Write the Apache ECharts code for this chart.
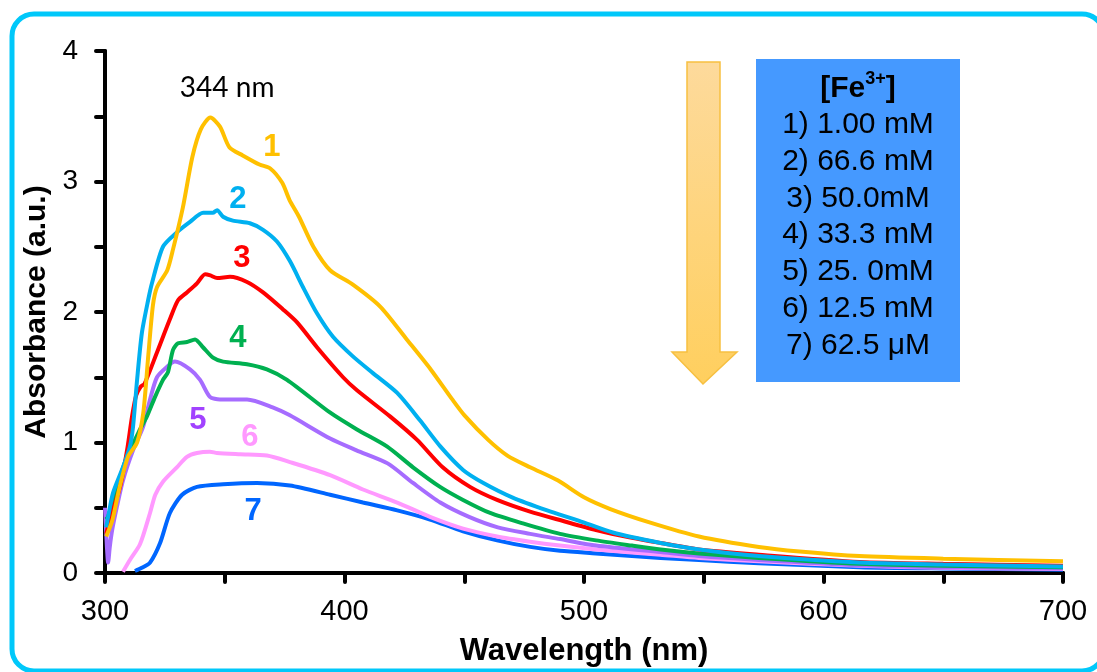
<!DOCTYPE html>
<html>
<head>
<meta charset="utf-8">
<script src="https://cdn.jsdelivr.net/npm/echarts@6/dist/echarts.min.js"></script>
<style>
    html, body { margin: 0; padding: 0; background: #fff; }
    #chart { width: 1097px; height: 672px; }
</style>
</head>
<body>
<div id="chart"></div>
<script>
    // absorbance spectra, [wavelength nm, absorbance]
    var curve1 = [[300.5,0.28],[303,0.4],[306,0.65],[309.6,0.89],[313.4,1.0],[316,1.23],[318,1.65],[320,2.05],[321.7,2.19],[326,2.32],[328.4,2.48],[332.5,2.8],[336.5,3.19],[340,3.4],[344,3.49],[348,3.42],[352,3.26],[357.5,3.2],[364.5,3.13],[369,3.1],[374,2.99],[377,2.86],[381,2.73],[387,2.5],[394,2.32],[403.5,2.21],[415,2.04],[426,1.79],[436,1.56],[445,1.33],[450,1.21],[460,1.02],[468,0.9],[477.5,0.81],[489,0.71],[500,0.58],[511,0.49],[527,0.39],[548,0.28],[573,0.2],[590,0.165],[615,0.13],[650,0.11],[700,0.09]];
    var curve2 = [[300.5,0.35],[301.3,0.43],[303.3,0.61],[307.5,0.81],[310.4,0.97],[311.7,1.12],[313.4,1.48],[315.4,1.84],[318,2.09],[319.6,2.22],[324.2,2.5],[330,2.61],[335.5,2.69],[341,2.76],[345,2.76],[346.8,2.78],[349.3,2.73],[353.4,2.7],[360.5,2.68],[366,2.63],[371.8,2.54],[377.2,2.39],[382.7,2.19],[388.5,1.99],[395.2,1.81],[403.5,1.66],[412,1.53],[422,1.38],[431.5,1.17],[440,0.97],[449.5,0.79],[458,0.69],[470,0.58],[484.6,0.48],[498,0.4],[512,0.31],[532,0.23],[548,0.18],[573,0.13],[615,0.08],[650,0.065],[700,0.05]];
    var curve3 = [[300.5,0.3],[302,0.41],[306.3,0.66],[309.2,0.94],[311.3,1.2],[313,1.36],[315,1.43],[316.5,1.45],[321.7,1.69],[327,1.94],[330.5,2.09],[334.2,2.15],[338.4,2.22],[341.8,2.29],[344,2.28],[346.8,2.26],[352.2,2.27],[359.3,2.23],[366,2.15],[374.3,2.02],[380.2,1.92],[388.5,1.73],[399.4,1.5],[405.2,1.4],[419,1.2],[430.3,1.02],[441,0.81],[452.4,0.66],[463.7,0.56],[477.5,0.47],[491,0.4],[505,0.33],[520,0.27],[532,0.23],[548,0.18],[573,0.14],[615,0.085],[650,0.07],[700,0.055]];
    var curve4 = [[300.4,0.41],[301.3,0.43],[305,0.66],[309.2,0.89],[314.6,1.1],[317.5,1.2],[320.9,1.35],[324.2,1.48],[326.3,1.54],[328.4,1.71],[330.5,1.76],[334.2,1.77],[337.6,1.79],[340.9,1.73],[345.1,1.65],[349.3,1.62],[359.3,1.6],[367.6,1.56],[376,1.48],[393.9,1.23],[405.2,1.1],[417.7,0.97],[428.6,0.81],[439.9,0.66],[449.5,0.56],[460.8,0.46],[474.5,0.38],[490,0.3],[505,0.25],[520,0.21],[532,0.18],[548,0.15],[573,0.115],[615,0.07],[650,0.055],[700,0.045]];
    var curve5 = [[300,0.5],[300.8,0.2],[301.3,0.08],[302,0.2],[303,0.33],[305,0.51],[307.5,0.71],[311.7,0.94],[315.9,1.12],[318.8,1.33],[321.7,1.5],[325.9,1.58],[329.2,1.62],[335.5,1.56],[339.7,1.48],[343.8,1.35],[348,1.33],[359.3,1.33],[370,1.27],[377,1.21],[394,1.03],[405,0.94],[418,0.84],[428.6,0.69],[440,0.54],[452,0.43],[464,0.35],[477.5,0.3],[490,0.26],[505,0.21],[532,0.16],[548,0.13],[573,0.1],[615,0.06],[650,0.045],[700,0.035]];
    var curve6 = [[307.5,0.01],[310.4,0.1],[314.6,0.22],[318.8,0.46],[321,0.6],[324.2,0.7],[330,0.81],[334.2,0.89],[338.4,0.92],[343.8,0.93],[346.8,0.92],[356.4,0.91],[367.6,0.9],[377.2,0.85],[394,0.75],[407.7,0.64],[422,0.54],[435.7,0.43],[449.5,0.34],[463.7,0.28],[477.5,0.24],[490,0.21],[505,0.18],[532,0.14],[548,0.115],[573,0.09],[615,0.055],[650,0.04],[700,0.03]];
    var curve7 = [[312.5,0.015],[315.4,0.04],[318.8,0.08],[323,0.23],[327.1,0.46],[332.2,0.6],[338.4,0.66],[349.3,0.68],[363.5,0.69],[377.2,0.67],[394,0.6],[407.7,0.54],[422,0.48],[435.7,0.41],[449.5,0.32],[463.7,0.25],[477.5,0.2],[490,0.17],[505,0.15],[532,0.115],[548,0.1],[573,0.075],[615,0.045],[650,0.035],[700,0.025]];

    var curveColors = ['#FFC000', '#00B0F0', '#FF0000', '#00B050', '#A66CFF', '#FF99FF', '#0066FF'];
    var labelColors = ['#FFC000', '#00B0F0', '#FF0000', '#00B050', '#A142FF', '#FF99FF', '#0066FF'];
    var curveNames = ['1', '2', '3', '4', '5', '6', '7'];
    // where the curve numbers sit, [wavelength, absorbance]
    var curveLabelAt = [[369.7,3.26],[355.5,2.86],[357.2,2.41],[355.5,1.80],[338.8,1.17],[360.5,1.04],[361.8,0.475]];
    var peakNote = { text: '344 nm', at: [351, 3.72] };

    var legendTitle = 'Fe';
    var legendLines = ['1) 1.00 mM', '2) 66.6 mM', '3) 50.0mM', '4) 33.3 mM', '5) 25. 0mM', '6) 12.5 mM', '7) 62.5 μM'];

    var curves = [curve1, curve2, curve3, curve4, curve5, curve6, curve7];

    var series = [];
    for (var i = 0; i < curves.length; i++) {
        series.push({
            name: curveNames[i],
            type: 'line',
            data: curves[i],
            showSymbol: false,
            smooth: 0.25,
            lineStyle: { color: curveColors[i], width: 4 },
            z: 10 - i
        });
    }
    var labelData = [];
    for (var j = 0; j < curveLabelAt.length; j++) {
        labelData.push({
            value: curveLabelAt[j],
            label: { formatter: curveNames[j], color: labelColors[j] }
        });
    }
    series.push({
        type: 'scatter',
        data: labelData,
        symbolSize: 0,
        itemStyle: { opacity: 1 },
        label: {
            show: true,
            position: 'inside',
            fontFamily: 'Liberation Sans',
            fontWeight: 'bold',
            fontSize: 31
        },
        z: 20
    });
    series.push({
        type: 'scatter',
        data: [{ value: peakNote.at, label: { formatter: peakNote.text } }],
        symbolSize: 0,
        itemStyle: { opacity: 1 },
        label: {
            show: true,
            position: 'inside',
            fontFamily: 'Lato',
            fontSize: 28,
            color: '#000'
        },
        z: 20
    });

    var chart = echarts.init(document.getElementById('chart'));
    var option = {
        animation: false,
        backgroundColor: '#fff',
        grid: { left: 105, right: 34, top: 51, bottom: 99, outerBoundsMode: 'none', containLabel: false },
        xAxis: {
            type: 'value',
            min: 300, max: 700, interval: 50,
            name: 'Wavelength (nm)',
            nameLocation: 'middle',
            nameGap: 63,
            nameTextStyle: { fontFamily: 'Liberation Sans', fontWeight: 'bold', fontSize: 31, color: '#000' },
            axisLine: { lineStyle: { color: '#000', width: 4 } },
            axisTick: { inside: false, length: 9, lineStyle: { color: '#000', width: 4, cap: 'round' } },
            axisLabel: {
                margin: 24,
                fontFamily: 'Liberation Sans', fontSize: 29, color: '#000',
                formatter: function (v) { return v % 100 === 0 ? String(v) : ''; }
            },
            splitLine: { show: false }
        },
        yAxis: {
            type: 'value',
            min: 0, max: 4, interval: 0.5,
            name: 'Absorbance (a.u.)',
            nameLocation: 'middle',
            nameGap: 52,
            nameTextStyle: { fontFamily: 'Liberation Sans', fontWeight: 'bold', fontSize: 30, color: '#000' },
            axisLine: { show: true, lineStyle: { color: '#000', width: 4 } },
            axisTick: { show: true, inside: false, length: 9, lineStyle: { color: '#000', width: 4, cap: 'round' } },
            axisLabel: {
                margin: 27,
                fontFamily: 'Liberation Sans', fontSize: 28, color: '#000',
                formatter: function (v) { return v % 1 === 0 ? String(v) : ''; }
            },
            splitLine: { show: false }
        },
        series: series,
        graphic: [
            {
                type: 'rect',
                shape: { x: 12, y: 14, width: 1092, height: 657, r: 22 },
                style: { fill: 'none', stroke: '#00C8FA', lineWidth: 5 },
                z: 1
            },
            {
                type: 'polygon',
                shape: { points: [[687, 62], [720, 62], [720, 352], [737, 352], [703, 384], [672, 352], [687, 352]] },
                style: {
                    fill: new echarts.graphic.LinearGradient(0, 0, 0, 1, [
                        { offset: 0, color: '#FDDA9C' },
                        { offset: 1, color: '#FFCF5E' }
                    ]),
                    stroke: '#F7C040',
                    lineWidth: 1.5
                },
                z: 5
            },
            {
                type: 'rect',
                shape: { x: 756, y: 59, width: 204, height: 323 },
                style: { fill: '#4599FF' },
                z: 5
            },
            {
                type: 'text',
                x: 858, y: 70,
                style: {
                    text: '{b|[' + legendTitle + '}{sup|3+}{b|]}\n' + legendLines.join('\n'),
                    align: 'center',
                    verticalAlign: 'top',
                    fontFamily: 'Liberation Sans',
                    fontSize: 30,
                    lineHeight: 36.7,
                    fill: '#000',
                    rich: {
                        b: { fontFamily: 'Liberation Sans', fontWeight: 'bold', fontSize: 30, lineHeight: 36.7 },
                        sup: { fontFamily: 'Liberation Sans', fontWeight: 'bold', fontSize: 18, verticalAlign: 'top', lineHeight: 36.7 }
                    }
                },
                z: 6
            }
        ]
    };
    chart.setOption(option);
</script>
</body>
</html>
